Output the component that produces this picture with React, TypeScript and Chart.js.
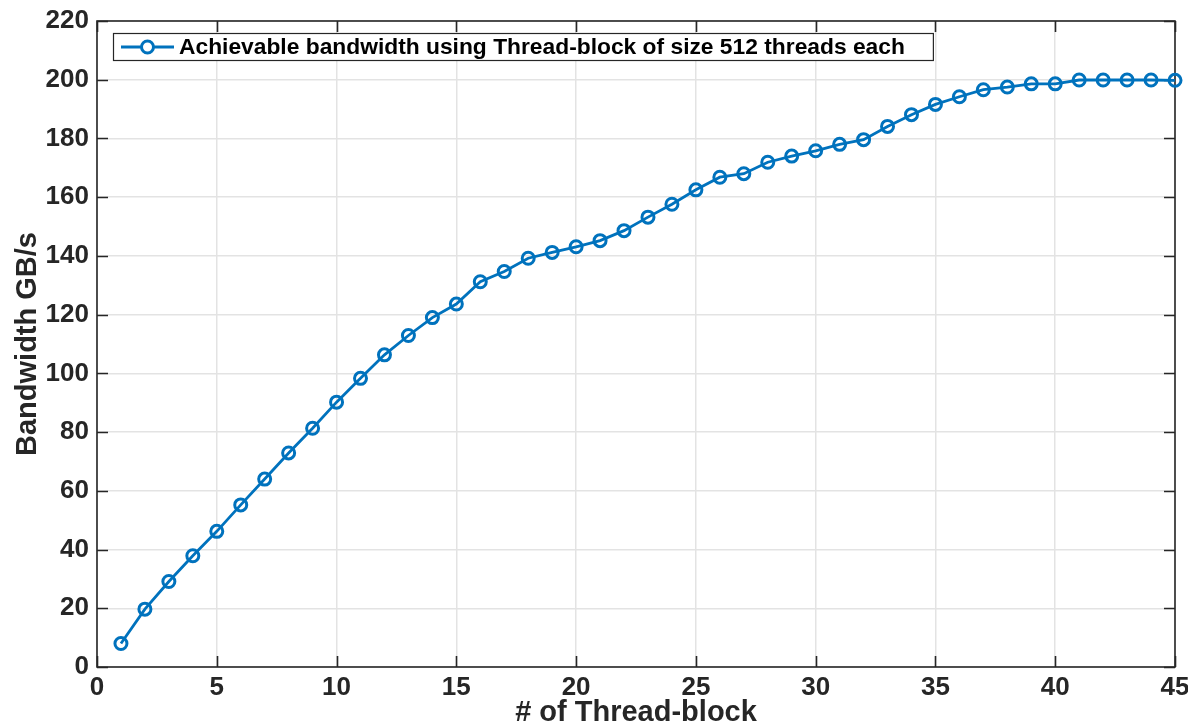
import React, { useEffect, useRef } from 'react';
import { Chart, registerables } from 'chart.js';

Chart.register(...registerables);

const threadBlocks = [
  1, 2, 3, 4, 5, 6, 7, 8, 9, 10, 11, 12, 13, 14, 15, 16, 17, 18, 19, 20, 21, 22, 23,
  24, 25, 26, 27, 28, 29, 30, 31, 32, 33, 34, 35, 36, 37, 38, 39, 40, 41, 42, 43, 44, 45,
];
const bandwidth = [
  8.0, 19.7, 29.1, 37.9, 46.2, 55.2, 64.0, 72.9, 81.3, 90.2, 98.3, 106.3, 112.9, 119.0,
  123.6, 131.2, 134.7, 139.2, 141.2, 143.1, 145.2, 148.6, 153.2, 157.6, 162.5, 166.8,
  168.0, 171.9, 174.0, 175.8, 178.0, 179.6, 184.1, 188.1, 191.6, 194.2, 196.6, 197.5,
  198.6, 198.6, 199.9, 199.9, 199.9, 199.9, 199.8,
];
const seriesLabel = 'Achievable bandwidth using Thread-block of size 512 threads each';
const xTitle = '# of Thread-block';
const yTitle = 'Bandwidth GB/s';
const xRange = [0, 45];
const xStep = 5;
const yRange = [0, 220];
const yStep = 20;

const FONT = '"Liberation Sans", Arial, Helvetica, sans-serif';
const AXIS = '#262626';
const BLUE = '#0072BD';

const framePlugin = {
  id: 'matlabFrame',
  beforeDatasetsDraw(chart: any) {
    const { ctx, chartArea: a, scales } = chart;
    const x = scales.x;
    const y = scales.y;
    ctx.save();
    ctx.strokeStyle = AXIS;
    ctx.lineWidth = 1.6;
    ctx.strokeRect(a.left, a.top, a.right - a.left, a.bottom - a.top);
    const L = 11;
    ctx.beginPath();
    x.ticks.forEach((t: any) => {
      const px = Math.round(x.getPixelForValue(t.value)) + 0.5;
      ctx.moveTo(px, a.bottom);
      ctx.lineTo(px, a.bottom - L);
      ctx.moveTo(px, a.top);
      ctx.lineTo(px, a.top + L);
    });
    y.ticks.forEach((t: any) => {
      const py = Math.round(y.getPixelForValue(t.value)) + 0.5;
      ctx.moveTo(a.left, py);
      ctx.lineTo(a.left + L, py);
      ctx.moveTo(a.right, py);
      ctx.lineTo(a.right - L, py);
    });
    ctx.stroke();
    ctx.restore();
  },
  afterDraw(chart: any) {
    const { ctx, chartArea: a } = chart;
    const ds = chart.data.datasets[0];
    ctx.save();
    ctx.font = `bold 22.8px ${FONT}`;
    const tw = ctx.measureText(ds.label).width;
    const bx = a.left + 16;
    const by = a.top + 12;
    const bh = 27;
    const textX = bx + 66;
    const bw = textX - bx + tw + 28;
    ctx.fillStyle = '#ffffff';
    ctx.fillRect(bx, by, bw, bh);
    ctx.strokeStyle = AXIS;
    ctx.lineWidth = 1.2;
    ctx.strokeRect(bx + 0.5, by + 0.5, bw, bh);
    const cy = by + bh / 2 + 0.5;
    ctx.strokeStyle = ds.borderColor;
    ctx.lineWidth = ds.borderWidth;
    ctx.beginPath();
    ctx.moveTo(bx + 8, cy);
    ctx.lineTo(bx + 61, cy);
    ctx.stroke();
    ctx.beginPath();
    ctx.fillStyle = '#ffffff';
    ctx.arc(bx + 34.5, cy, ds.pointRadius, 0, Math.PI * 2);
    ctx.fill();
    ctx.lineWidth = ds.pointBorderWidth;
    ctx.stroke();
    ctx.fillStyle = '#000000';
    ctx.textBaseline = 'middle';
    ctx.textAlign = 'left';
    ctx.fillText(ds.label, textX, cy + 1);
    ctx.restore();
  },
};

export default function App() {
  const ref = useRef<HTMLCanvasElement>(null);

  useEffect(() => {
    if (!ref.current) return;
    const chart = new Chart(ref.current, {
      type: 'line',
      data: {
        datasets: [
          {
            label: seriesLabel,
            data: threadBlocks.map((t, i) => ({ x: t, y: bandwidth[i] })),
            borderColor: BLUE,
            backgroundColor: '#ffffff',
            borderWidth: 2.8,
            pointRadius: 6,
            pointBorderWidth: 3,
            pointBackgroundColor: 'rgba(255,255,255,0)',
            pointBorderColor: BLUE,
            tension: 0,
            clip: false as any,
          },
        ],
      },
      options: {
        animation: false,
        responsive: false,
        devicePixelRatio: 1,
        layout: { padding: { left: 0, top: 21, right: 13, bottom: 0 } },
        plugins: {
          legend: { display: false },
          tooltip: { enabled: false },
        },
        scales: {
          x: {
            type: 'linear',
            min: xRange[0],
            max: xRange[1],
            ticks: {
              stepSize: xStep,
              color: AXIS,
              padding: 5,
              font: { family: FONT, size: 26, weight: 'bold' },
              maxRotation: 0,
            },
            grid: { color: '#e3e3e3', lineWidth: 1.5, drawTicks: false },
            border: { display: false },
            title: {
              display: true,
              text: xTitle,
              color: AXIS,
              padding: 0,
              font: { family: FONT, size: 29, weight: 'bold', lineHeight: 1 },
            },
            afterFit: (s: any) => {
              s.height = 60;
              s.paddingLeft = 0;
              s.paddingRight = 0;
            },
          },
          y: {
            type: 'linear',
            min: yRange[0],
            max: yRange[1],
            ticks: {
              stepSize: yStep,
              color: AXIS,
              padding: 8,
              font: { family: FONT, size: 26, weight: 'bold' },
            },
            grid: { color: '#e3e3e3', lineWidth: 1.5, drawTicks: false },
            border: { display: false },
            title: {
              display: true,
              text: yTitle,
              color: AXIS,
              padding: { top: 13, bottom: 0 },
              font: { family: FONT, size: 29, weight: 'bold', lineHeight: 1 },
            },
            afterFit: (s: any) => {
              s.width = 97;
              s.paddingTop = 0;
              s.paddingBottom = 0;
            },
          },
        },
      },
      plugins: [framePlugin],
    });
    return () => chart.destroy();
  }, []);

  return (
    <div style={{ position: 'fixed', left: 0, top: 0, width: 1188, height: 727, background: '#fff' }}>
      <canvas ref={ref} width={1188} height={727} style={{ display: 'block' }} />
    </div>
  );
}
